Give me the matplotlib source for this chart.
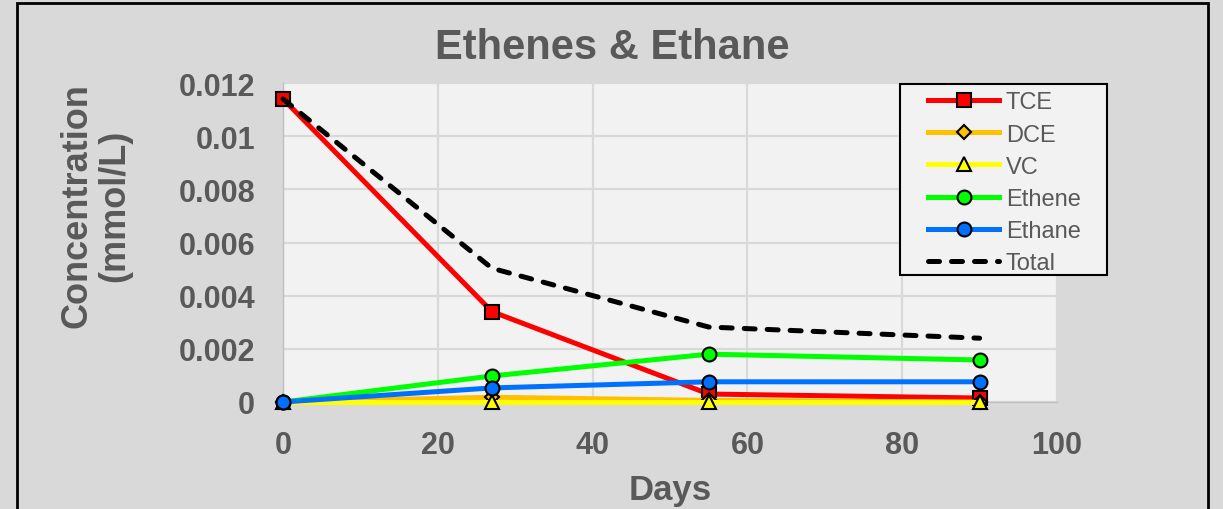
import numpy as np
import matplotlib
matplotlib.use("Agg")
import matplotlib.pyplot as plt
from matplotlib.patches import Rectangle
from matplotlib.ticker import FuncFormatter

plt.rcParams['font.family'] = ['Liberation Sans', 'DejaVu Sans']

# data
days = [0, 27, 55, 90]
tce = [0.0114, 0.0034, 0.0003, 0.00015]
dce = [0.0, 0.00018, 0.00006, 0.0]
vc = [0.0, 0.0, 0.0, 0.0]
ethene = [0.0, 0.00098, 0.0018, 0.00158]
ethane = [0.0, 0.00053, 0.00076, 0.00076]
total = [0.0114, 0.00503, 0.00282, 0.0024]

gray_txt = '#595959'

fig = plt.figure(figsize=(12.23, 5.10), dpi=100)
fig.patch.set_facecolor('#D9D9D9')
ax = fig.add_axes([283 / 1223, 1 - 403 / 510, (1057 - 283) / 1223, (403 - 84) / 510])
ax.set_facecolor('#F2F2F2')

lw = 3.6
ax.plot(days, tce, color='#FF0000', lw=lw, marker='s', ms=9.5, mfc='#FF0000', mec='black', mew=1.5,
        label='TCE', clip_on=False, zorder=3)
ax.plot(days, dce, color='#FFC000', lw=lw, marker='D', ms=7.5, mfc='#FFC000', mec='black', mew=1.5,
        label='DCE', clip_on=False, zorder=3)
ax.plot(days, vc, color='#FFFF00', lw=lw, marker='^', ms=10, mfc='#FFFF00', mec='black', mew=1.5,
        label='VC', clip_on=False, zorder=3)
ax.plot(days, ethene, color='#00FF00', lw=lw, marker='o', ms=10, mfc='#00FF00', mec='black', mew=1.5,
        label='Ethene', clip_on=False, zorder=3)
ax.plot(days, ethane, color='#0070FF', lw=lw, marker='o', ms=10, mfc='#0070FF', mec='black', mew=1.5,
        label='Ethane', clip_on=False, zorder=3)
ax.plot(days, total, color='black', lw=lw, ls=(0, (2.2, 2.4)), dash_capstyle='round',
        label='Total', clip_on=False, zorder=4)

ax.set_xlim(0, 100)
ax.set_ylim(0, 0.012)
ax.set_xticks(np.arange(0, 101, 20))
ax.set_yticks(np.arange(0, 0.0121, 0.002))
ax.yaxis.set_major_formatter(FuncFormatter(lambda v, p: '%g' % round(v, 4)))
ax.grid(True, color='#D9D9D9', lw=1.6)
ax.set_axisbelow(True)
for s in ['top', 'right']:
    ax.spines[s].set_visible(False)
for s in ['left', 'bottom']:
    ax.spines[s].set_color('#BFBFBF')
    ax.spines[s].set_linewidth(1)
ax.tick_params(length=0, labelsize=22, labelcolor=gray_txt)
ax.tick_params(axis='y', pad=20)
ax.tick_params(axis='x', pad=20)
for t in ax.get_xticklabels() + ax.get_yticklabels():
    t.set_fontweight('bold')

fig.text(0.5008, 1 - 48 / 510, 'Ethenes & Ethane', ha='center', va='center',
         fontsize=30, fontweight='bold', color=gray_txt)
fig.text(96 / 1223, 1 - 206 / 510, 'Concentration\n(mmol/L)', rotation=90, ha='center', va='center',
         multialignment='center', fontsize=26, fontweight='bold', color=gray_txt, linespacing=1.12)
fig.text(670 / 1223, 1 - 500 / 510, 'Days', ha='center', va='baseline',
         fontsize=25, fontweight='bold', color=gray_txt)

# legend box drawn separately so the side padding can be wider than the top padding
ax.add_patch(Rectangle((900 / 1223, 1 - 276 / 510), 207 / 1223, 191 / 510, transform=fig.transFigure,
                       facecolor='#F2F2F2', edgecolor='black', lw=1.5, zorder=5, clip_on=False))
leg = ax.legend(loc='upper left', bbox_to_anchor=(926 / 1223, 1 - 90 / 510), bbox_transform=fig.transFigure,
                borderaxespad=0, fontsize=17, frameon=False, handlelength=3.0,
                handletextpad=0.28, labelspacing=0.43, borderpad=0.1)
leg.set_zorder(6)
for t in leg.get_texts():
    t.set_color(gray_txt)

# outer chart border
fig.patches.append(Rectangle((17 / 1223, -0.1), (1208 - 17) / 1223, 1 - 4 / 510 + 0.1,
                             transform=fig.transFigure, fill=False, edgecolor='black', lw=2))

fig.savefig('out.png', dpi=100, facecolor=fig.get_facecolor())
